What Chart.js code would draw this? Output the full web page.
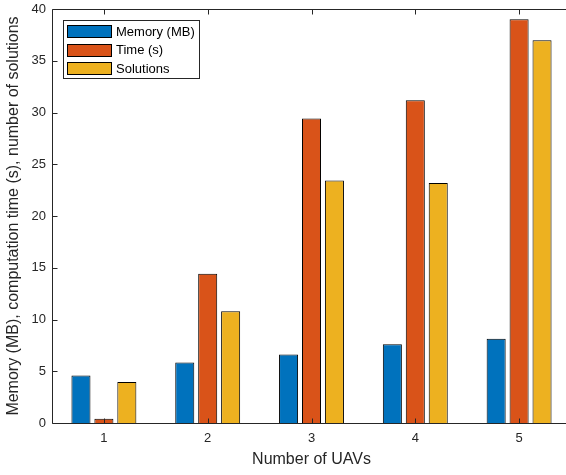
<!DOCTYPE html>
<html>
<head>
<meta charset="utf-8">
<script src="https://cdn.jsdelivr.net/npm/chart.js@4/dist/chart.umd.min.js"></script>
<style>
  html, body { margin: 0; padding: 0; background: #fff; overflow: hidden; }
  #wrap { width: 566px; height: 475px; overflow: hidden; position: relative; }
  canvas { display: block; }
</style>
</head>
<body>
<div id="wrap"><canvas id="c" width="580" height="475"></canvas></div>
<script>
// UAV count on the x axis
const categories = ['1', '2', '3', '4', '5'];
// Memory use (MB), computation time (s), and number of solutions per UAV count
const memory = [4.58, 5.84, 6.61, 7.60, 8.15];
const time = [0.40, 14.43, 29.41, 31.18, 39.0];
const solutions = [3.96, 10.79, 23.42, 23.19, 36.98];
const seriesLabels = ['Memory (MB)', 'Time (s)', 'Solutions'];
const seriesColors = ['#0072BD', '#D95319', '#EDB120'];
const yTicks = [0, 5, 10, 15, 20, 25, 30, 35, 40];

const AXIS = '#262626';
const FONT = '"Liberation Sans", Arial, Helvetica, sans-serif';

// Box outline, inward tick marks on all four sides, and the legend
const axesBox = {
  id: 'axesBox',
  afterDatasetsDraw(chart) {
    const { ctx, chartArea: a, scales: { x, y } } = chart;
    const L = Math.round(a.left) + 0.5, R = Math.round(a.right) + 0.5;
    const T = Math.round(a.top) + 0.5, B = Math.round(a.bottom) + 0.5;
    const tl = 5;
    ctx.save();
    ctx.strokeStyle = AXIS;
    ctx.lineWidth = 1;
    ctx.beginPath();
    ctx.rect(L, T, R - L, B - T);
    x.ticks.forEach((t, i) => {
      const px = Math.round(x.getPixelForTick(i)) + 0.5;
      ctx.moveTo(px, B); ctx.lineTo(px, B - tl);
      ctx.moveTo(px, T); ctx.lineTo(px, T + tl);
    });
    yTicks.forEach(v => {
      const py = Math.round(y.getPixelForValue(v)) + 0.5;
      ctx.moveTo(L, py); ctx.lineTo(L + tl, py);
      ctx.moveTo(R, py); ctx.lineTo(R - tl, py);
    });
    ctx.stroke();

    // legend
    const lx = 63.5, ly = 20.5, lw = 136, lh = 58;
    ctx.fillStyle = '#fff';
    ctx.fillRect(lx, ly, lw, lh);
    ctx.strokeStyle = AXIS;
    ctx.strokeRect(lx, ly, lw, lh);
    ctx.font = '13px ' + FONT;
    ctx.textBaseline = 'middle';
    ctx.textAlign = 'left';
    chart.data.datasets.forEach((ds, i) => {
      const cy = 31.5 + i * 18.5;
      ctx.fillStyle = ds.backgroundColor;
      ctx.fillRect(67.5, Math.round(cy - 6.5) + 0.5, 44, 12);
      ctx.strokeStyle = '#000';
      ctx.strokeRect(67.5, Math.round(cy - 6.5) + 0.5, 44, 12);
      ctx.fillStyle = '#000';
      ctx.fillText(ds.label, 116, cy + 0.5);
    });
    ctx.restore();
  }
};

new Chart(document.getElementById('c'), {
  type: 'bar',
  data: {
    labels: categories,
    datasets: [memory, time, solutions].map((d, i) => ({
      label: seriesLabels[i],
      data: d,
      backgroundColor: seriesColors[i],
      borderColor: '#000',
      borderWidth: 1,
      borderSkipped: 'start',
      categoryPercentage: 0.663,
      barPercentage: 0.83
    }))
  },
  options: {
    responsive: false,
    animation: false,
    devicePixelRatio: 1,
    layout: { padding: { top: 9, right: 9, left: 0, bottom: 0 } },
    plugins: { legend: { display: false }, tooltip: { enabled: false } },
    scales: {
      x: {
        grid: { display: false, drawTicks: false },
        border: { display: false },
        ticks: { color: AXIS, font: { family: FONT, size: 13 }, padding: 8, maxRotation: 0 },
        title: {
          display: true, text: 'Number of UAVs', color: AXIS,
          font: { family: FONT, size: 16 }, padding: { top: 0, bottom: 6 }
        },
        afterFit(s) { s.height = 52; s.paddingLeft = 0; s.paddingRight = 0; }
      },
      y: {
        min: 0, max: 40,
        afterBuildTicks(s) { s.ticks = yTicks.map(v => ({ value: v })); },
        grid: { display: false, drawTicks: false },
        border: { display: false },
        ticks: { color: AXIS, font: { family: FONT, size: 13 }, padding: 6 },
        title: {
          display: true, text: 'Memory (MB), computation time (s), number of solutions', color: AXIS,
          font: { family: FONT, size: 16 }, padding: { top: 4, bottom: 4 }
        },
        afterFit(s) { s.width = 52; s.paddingTop = 0; s.paddingBottom = 0; }
      }
    }
  },
  plugins: [axesBox]
});
</script>
</body>
</html>
